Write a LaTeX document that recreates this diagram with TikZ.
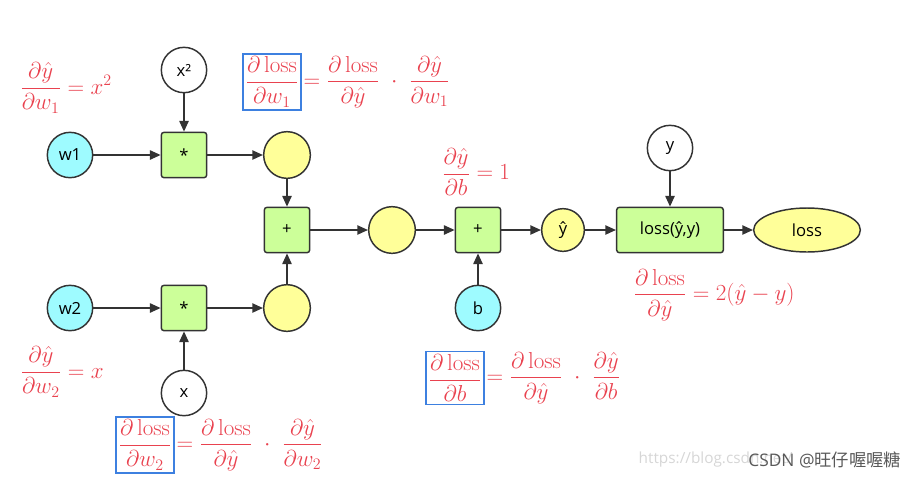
\documentclass[tikz,border=0pt]{standalone}
\usepackage{amsmath}
\usepackage{fontspec}
\setsansfont{Open Sans}
\newfontfamily\cjk{Noto Sans CJK SC}
\usetikzlibrary{arrows.meta,positioning,shapes.geometric}

\definecolor{cyannode}{HTML}{9EFBFF}
\definecolor{greennode}{HTML}{CCFF99}
\definecolor{yellownode}{HTML}{FFFF99}
\definecolor{pen}{HTML}{E9424F}
\definecolor{boxpen}{HTML}{3D80E0}
\definecolor{edgegray}{HTML}{333333}

\begin{document}
\begin{tikzpicture}[x=0.75pt,y=-0.75pt,
    var/.style={circle,draw=edgegray,line width=1.1pt,minimum size=34pt,inner sep=0pt,
      font=\sffamily\fontsize{12.5}{14}\selectfont},
    inp/.style={var,fill=cyannode},
    cst/.style={var,fill=white},
    mid/.style={var,fill=yellownode,minimum size=35pt},
    opbox/.style={rectangle,rounded corners=2pt,draw=edgegray,line width=1.1pt,fill=greennode,
      minimum size=34pt,inner sep=0pt,font=\sffamily\fontsize{12.5}{14}\selectfont},
    arr/.style={draw=edgegray,line width=1.1pt,-{Triangle[length=8pt,width=7pt]}},
    note/.style={text=pen,font=\LARGE},
    lhsbox/.style={draw=boxpen,line width=1.1pt,text=pen,font=\LARGE,inner sep=2pt}]
\useasboundingbox (0,0) rectangle (919,479);

\node[inp] (w1) at (70,155) {w1};
\node[inp] (w2) at (70,308) {w2};
\node[cst] (xsq) at (184,70) {x²};
\node[cst] (x) at (184,393) {x};
\node[opbox] (m1) at (184,155) {*};
\node[opbox] (m2) at (184,308) {*};
\node[mid] (p1) at (287,155) {};
\node[mid] (p2) at (287,308) {};
\node[opbox] (add1) at (287,230) {+};
\node[mid] (s) at (392,230) {};
\node[opbox] (add2) at (478,230) {+};
\node[inp] (b) at (478,308) {b};
\node[mid,minimum size=32pt] (yh) at (563,230) {ŷ};
\node[opbox,minimum width=80pt] (L) at (670,230) {loss(ŷ,y)};
\node[cst] (y) at (670,148) {y};
\node[ellipse,draw=edgegray,line width=1.1pt,fill=yellownode,minimum width=80pt,minimum height=33pt,
  inner sep=0pt,font=\sffamily\fontsize{12.5}{14}\selectfont] (loss) at (807,230) {loss};

\draw[arr] (w1) -- (m1);
\draw[arr] (xsq) -- (m1);
\draw[arr] (m1) -- (p1);
\draw[arr] (p1) -- (add1);
\draw[arr] (w2) -- (m2);
\draw[arr] (x) -- (m2);
\draw[arr] (m2) -- (p2);
\draw[arr] (p2) -- (add1);
\draw[arr] (add1) -- (s);
\draw[arr] (s) -- (add2);
\draw[arr] (b) -- (add2);
\draw[arr] (add2) -- (yh);
\draw[arr] (yh) -- (L);
\draw[arr] (y) -- (L);
\draw[arr] (L) -- (loss);

\node[note] (gw1) at (66,88) {$\dfrac{\partial\hat y}{\partial w_1}=x^2$};
\node[note] (gw2) at (62,372) {$\dfrac{\partial\hat y}{\partial w_2}=x$};
\node[note] (gb) at (476,172) {$\dfrac{\partial\hat y}{\partial b}=1$};
\node[note] (gL) at (714,295) {$\dfrac{\partial\,\mathrm{loss}}{\partial\hat y}=2(\hat y-y)$};

\node[lhsbox] (lw1) at (272,82) {$\dfrac{\partial\,\mathrm{loss}}{\partial w_1}$};
\node[note,anchor=west,inner sep=1pt] (cw1) at (lw1.east) {$=\dfrac{\partial\,\mathrm{loss}}{\partial\hat y}\;\cdot\;\dfrac{\partial\hat y}{\partial w_1}$};
\node[lhsbox] (lw2) at (145,445) {$\dfrac{\partial\,\mathrm{loss}}{\partial w_2}$};
\node[note,anchor=west,inner sep=1pt] (cw2) at (lw2.east) {$=\dfrac{\partial\,\mathrm{loss}}{\partial\hat y}\;\cdot\;\dfrac{\partial\hat y}{\partial w_2}$};
\node[lhsbox] (lb) at (455,378) {$\dfrac{\partial\,\mathrm{loss}}{\partial b}$};
\node[note,anchor=west,inner sep=1pt] (cb) at (lb.east) {$=\dfrac{\partial\,\mathrm{loss}}{\partial\hat y}\;\cdot\;\dfrac{\partial\hat y}{\partial b}$};

\node[anchor=west,text=black!16,font=\sffamily\fontsize{11.5}{13}\selectfont] (url) at (634,460) {https://blog.csdn.net/};
\node[anchor=east,text=black!65,font=\sffamily\fontsize{13}{15}\selectfont] (wm) at (906,460) {CSDN @{\cjk 旺仔喔喔糖}};
\end{tikzpicture}
\end{document}
